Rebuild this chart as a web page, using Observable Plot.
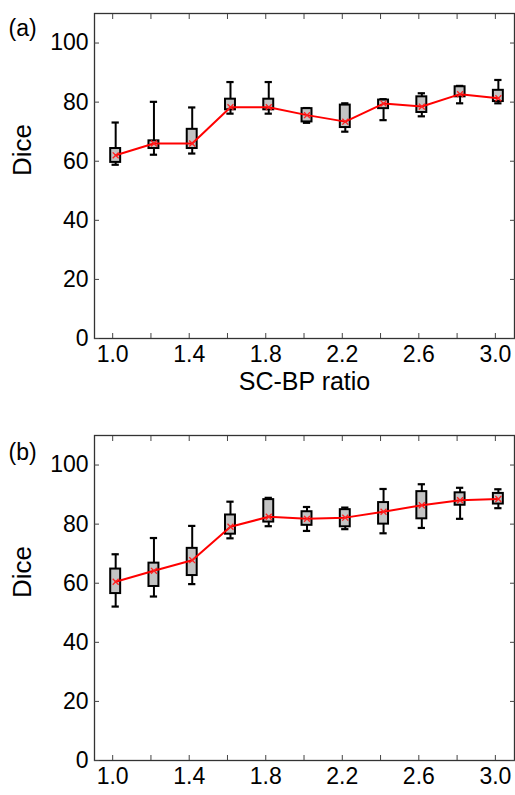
<!DOCTYPE html>
<html>
<head>
<meta charset="utf-8">
<script src="https://cdn.jsdelivr.net/npm/d3@7"></script>
<script src="https://cdn.jsdelivr.net/npm/@observablehq/plot@0.6"></script>
<style>
  html, body { margin: 0; padding: 0; background: #fff; }
  #chart { width: 515px; height: 795px; overflow: hidden; }
  #chart svg { display: block; }
</style>
</head>
<body>
<div id="chart"></div>
<script>
// ---- data ----
const ratios = [1.0, 1.2, 1.4, 1.6, 1.8, 2.0, 2.2, 2.4, 2.6, 2.8, 3.0];

// panel (a)
const aLow  = [58.8, 62.2, 62.6, 76.1, 76.1, 73.0, 70.0, 73.9, 75.2, 79.6, 79.6];
const aQ1   = [59.6, 64.3, 64.3, 77.4, 77.4, 73.3, 71.4, 77.8, 76.5, 81.8, 80.2];
const aMed  = [62.0, 66.0, 66.0, 78.3, 78.3, 75.6, 73.4, 79.5, 78.5, 82.7, 81.3];
const aQ3   = [64.3, 66.9, 70.8, 81.0, 81.0, 77.8, 79.0, 80.7, 81.8, 85.2, 84.0];
const aHigh = [73.1, 80.1, 78.2, 86.8, 86.8, 78.0, 79.6, 81.0, 83.0, 85.5, 87.5];

// panel (b)
const bLow  = [52.1, 55.5, 59.7, 75.2, 79.3, 77.7, 78.3, 76.9, 78.7, 81.8, 85.4];
const bQ1   = [56.5, 58.9, 62.6, 76.6, 80.7, 79.6, 79.1, 80.0, 81.8, 86.4, 86.8];
const bMed  = [60.5, 64.2, 67.8, 79.1, 82.5, 81.8, 82.2, 84.2, 86.4, 88.1, 88.5];
const bQ3   = [64.8, 66.8, 71.8, 83.1, 88.3, 84.2, 84.9, 87.3, 91.0, 90.6, 90.4];
const bHigh = [69.8, 75.3, 79.4, 87.6, 88.9, 85.8, 85.6, 91.9, 93.5, 92.3, 91.8];

const xTicks = [1.0, 1.2, 1.4, 1.6, 1.8, 2.0, 2.2, 2.4, 2.6, 2.8, 3.0];
const xTickLabels = [1.0, 1.4, 1.8, 2.2, 2.6, 3.0];
const yTicks = [0, 20, 40, 60, 80, 100];

const yLabel = "Dice";
const xLabel = "SC-BP ratio";

// ---- drawing ----
const FONT = "'Liberation Sans', Arial, sans-serif";
const fmt = d3.format(".1f");

function panel({low, q1, med, q3, high, tag, height, marginTop, marginBottom, xPad, showXLabel}) {
  const data = ratios.map((x, i) => ({x, low: low[i], q1: q1[i], med: med[i], q3: q3[i], high: high[i]}));
  const boxHalf = 0.026, capHalf = 0.019, off = 3;
  const marks = [
    Plot.ruleX(data, {x: "x", y1: "low", y2: "high", stroke: "black", strokeWidth: 2, dx: off}),
    Plot.ruleY(data, {y: "high", x1: d => d.x - capHalf, x2: d => d.x + capHalf, stroke: "black", strokeWidth: 2.2, dx: off}),
    Plot.ruleY(data, {y: "low", x1: d => d.x - capHalf, x2: d => d.x + capHalf, stroke: "black", strokeWidth: 2.2, dx: off}),
    Plot.rect(data, {x1: d => d.x - boxHalf, x2: d => d.x + boxHalf, y1: "q1", y2: "q3", fill: "#c3c3c3", stroke: "black", strokeWidth: 2, dx: off}),
    Plot.line(data, {x: "x", y: "med", stroke: "#ff0000", strokeWidth: 2, dx: off}),
    Plot.dot(data, {x: "x", y: "med", symbol: "times", r: 2.8, stroke: "#ff2020", strokeWidth: 1.3, dx: off}),
    Plot.frame({stroke: "#333", strokeWidth: 1.3}),
    Plot.axisY(yTicks, {anchor: "left", tickSize: -5, tickPadding: 11, fontSize: 23, label: null, stroke: "#444", fill: "black"}),
    Plot.axisY(yTicks, {anchor: "right", tickSize: -5, tickFormat: () => "", label: null, stroke: "#444"}),
    Plot.axisX(xTicks, {anchor: "bottom", tickSize: -5, tickPadding: xPad, fontSize: 23, label: null, stroke: "#444", fill: "black",
      tickFormat: d => xTickLabels.includes(d) ? fmt(d) : ""}),
    Plot.axisX(xTicks, {anchor: "top", tickSize: -5, tickFormat: () => "", label: null, stroke: "#444"}),
    Plot.text([yLabel], {text: d => d, frameAnchor: "left", dx: -72, rotate: -90, fontSize: 26, fill: "black"}),
    Plot.text([tag], {text: d => d, frameAnchor: "top-left", dx: -86, dy: tag === "(a)" ? 6 : 8, textAnchor: "start", fontSize: 23, fill: "black"})
  ];
  if (showXLabel) {
    marks.push(Plot.text([xLabel], {text: d => d, frameAnchor: "bottom", dy: 51, fontSize: 25, fill: "black"}));
  }
  return Plot.plot({
    width: 515,
    height,
    marginLeft: 94,
    marginRight: 1,
    marginTop,
    marginBottom,
    style: {fontFamily: FONT, background: "white", overflow: "visible", color: "black"},
    x: {domain: [0.905, 3.1], label: null},
    y: {domain: [0, 110], label: null},
    marks
  });
}

const chart = document.getElementById("chart");
chart.appendChild(panel({low: aLow, q1: aQ1, med: aMed, q3: aQ3, high: aHigh, tag: "(a)",
  height: 400, marginTop: 13, marginBottom: 62, xPad: 12, showXLabel: true}));
chart.appendChild(panel({low: bLow, q1: bQ1, med: bMed, q3: bQ3, high: bHigh, tag: "(b)",
  height: 395, marginTop: 35, marginBottom: 35, xPad: 12, showXLabel: false}));
</script>
</body>
</html>
